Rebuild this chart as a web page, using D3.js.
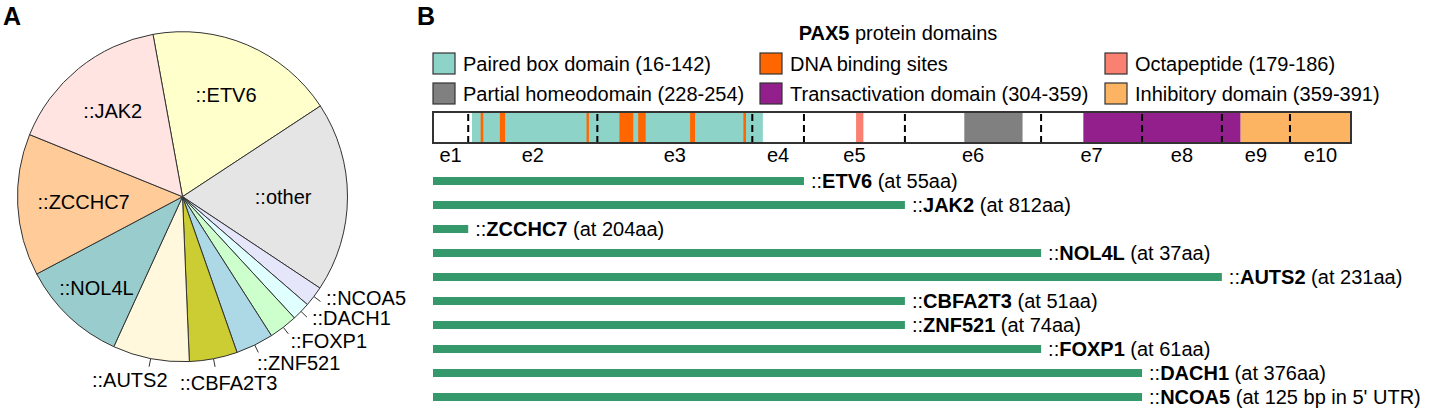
<!DOCTYPE html>
<html lang="en">
<head>
<meta charset="utf-8">
<title>PAX5 fusions</title>
<script src="https://cdn.jsdelivr.net/npm/d3@7"></script>
<style>
  body { margin: 0; background: #fff; }
  svg { display: block; font-family: "Liberation Sans", Arial, sans-serif; }
</style>
</head>
<body>
<script>
// ---- panel A: fusion partner frequencies (share of cases, %) ----
var partners = ["ETV6", "other", "NCOA5", "DACH1", "FOXP1", "ZNF521", "CBFA2T3", "AUTS2", "NOL4L", "ZCCHC7", "JAK2"];
var shares   = [18.6, 18.6, 2.0, 1.8, 2.8, 3.7, 4.7, 7.5, 10.4, 13.9, 16.0];
var sliceColors = ["#ffffcc", "#e5e5e5", "#e6e6fa", "#e0ffff", "#ccffcc", "#add8e6", "#cccc33", "#fff8dc", "#99cccc", "#ffcc99", "#ffe4e1"];
var insideLabels = ["ETV6", "other", "NOL4L", "ZCCHC7", "JAK2"];

// ---- panel B: PAX5 protein (positions along the drawn bar, aa) ----
var proteinLength = 391;
var exonNames = ["e1", "e2", "e3", "e4", "e5", "e6", "e7", "e8", "e9", "e10"];
var exonEnds  = [15, 70, 136, 158, 201, 259, 302, 336, 365, 391];

var domainNames  = ["Paired box domain (16-142)", "DNA binding sites", "Octapeptide (179-186)",
                    "Partial homeodomain (228-254)", "Transactivation domain (304-359)", "Inhibitory domain (359-391)"];
var domainColors = ["#8dd3c7", "#ff6600", "#fa8072", "#808080", "#921f8c", "#fdb462"];
// drawn extents [start, end, legend index]
var domainSpans = [
  [16.6, 140.5, 0], [180.2, 183.3, 2], [226.3, 251.1, 3], [277, 344, 4], [344, 391, 5]
];
var dnaSites = [[20.3, 21.4], [28.5, 30.7], [65.4, 66.4], [79.4, 85.3], [87.4, 90.6], [109.5, 111.6], [132.2, 133.3]];

// ---- fusions: last retained PAX5 exon and partner breakpoint ----
var fusionGenes = ["ETV6", "JAK2", "ZCCHC7", "NOL4L", "AUTS2", "CBFA2T3", "ZNF521", "FOXP1", "DACH1", "NCOA5"];
var lastExon    = [4, 5, 1, 6, 8, 5, 5, 6, 7, 7];
var breakpoints = ["at 55aa", "at 812aa", "at 204aa", "at 37aa", "at 231aa", "at 51aa", "at 74aa", "at 61aa", "at 376aa", "at 125 bp in 5' UTR"];

var W = 1430, H = 410;
var svg = d3.select("body").append("svg").attr("width", W).attr("height", H);

svg.append("text").attr("x", 3).attr("y", 25).attr("font-size", 25).attr("font-weight", "bold").text("A");
svg.append("text").attr("x", 417).attr("y", 25).attr("font-size", 25).attr("font-weight", "bold").text("B");

/* ---------- pie ---------- */
var cx = 182.5, cy = 196.7, r = 165;
var start = -10.3 * Math.PI / 180;
var pie = d3.pie().sort(null).value(function(d) { return d.v; })
  .startAngle(start).endAngle(start + 2 * Math.PI);
var slices = pie(partners.map(function(p, i) { return { name: p, v: shares[i], c: sliceColors[i] }; }));
var arc = d3.arc().innerRadius(0).outerRadius(r);

var gPie = svg.append("g").attr("transform", "translate(" + cx + "," + cy + ")");
gPie.selectAll("path").data(slices).enter().append("path")
  .attr("d", arc)
  .attr("fill", function(d) { return d.data.c; })
  .attr("stroke", "#333").attr("stroke-width", 1);

function mid(d) { return (d.startAngle + d.endAngle) / 2; }
function pt(a, k) { return [k * Math.sin(a), -k * Math.cos(a)]; }

// label placement tweaks
var innerRadius = { ETV6: 0.67, JAK2: 0.67, ZCCHC7: 0.6, other: 0.61, NOL4L: 0.76 };
var nudge = { NCOA5: [-1, -8], DACH1: [-1, -5], FOXP1: [-3, 1], ZNF521: [-5, 3], CBFA2T3: [-37, 8], AUTS2: [20, 5] };

slices.forEach(function(d) {
  var a = mid(d), name = d.data.name;
  if (insideLabels.indexOf(name) >= 0) {
    var p = pt(a, innerRadius[name] * r);
    gPie.append("text").attr("x", p[0]).attr("y", p[1]).attr("dy", "0.35em")
      .attr("text-anchor", "middle").attr("font-size", 20).text("::" + name);
  } else {
    var p0 = pt(a, r), p1 = pt(a, 1.05 * r), p2 = pt(a, 1.1 * r);
    var n = nudge[name] || [0, 0];
    gPie.append("line").attr("x1", p0[0]).attr("y1", p0[1]).attr("x2", p1[0]).attr("y2", p1[1])
      .attr("stroke", "#333").attr("stroke-width", 1);
    gPie.append("text").attr("x", p2[0] + n[0]).attr("y", p2[1] + n[1]).attr("dy", "0.35em")
      .attr("text-anchor", Math.sin(a) > 0 ? "start" : "end")
      .attr("font-size", 20).text("::" + name);
  }
});

/* ---------- protein bar ---------- */
var x = d3.scaleLinear().domain([0, proteinLength]).range([433, 1351]);
var barTop = 112, barH = 31;

var title = svg.append("text").attr("x", 898).attr("y", 33).attr("dy", "0.35em")
  .attr("text-anchor", "middle").attr("font-size", 20);
title.append("tspan").attr("font-weight", "bold").text("PAX5");
title.append("tspan").text(" protein domains");

// legend, 3 columns x 2 rows
var legCols = [433, 760, 1105], legRows = [53, 83];
var leg = svg.append("g");
domainNames.forEach(function(name, i) {
  var lx = legCols[i % 3], ly = legRows[Math.floor(i / 3)];
  leg.append("rect").attr("x", lx).attr("y", ly).attr("width", 22).attr("height", 21)
    .attr("fill", domainColors[i]).attr("stroke", "#333").attr("stroke-width", 1.2);
  leg.append("text").attr("x", lx + 30).attr("y", ly + 10.5).attr("dy", "0.35em")
    .attr("font-size", 20).text(name);
});

var gBar = svg.append("g");
gBar.append("rect").attr("x", x(0)).attr("y", barTop).attr("width", x(proteinLength) - x(0)).attr("height", barH)
  .attr("fill", "#fff");
gBar.selectAll("rect.dom").data(domainSpans).enter().append("rect").attr("class", "dom")
  .attr("x", function(d) { return x(d[0]); })
  .attr("width", function(d) { return x(d[1]) - x(d[0]); })
  .attr("y", barTop).attr("height", barH)
  .attr("fill", function(d) { return domainColors[d[2]]; });
gBar.selectAll("rect.dna").data(dnaSites).enter().append("rect").attr("class", "dna")
  .attr("x", function(d) { return x(d[0]); })
  .attr("width", function(d) { return x(d[1]) - x(d[0]); })
  .attr("y", barTop).attr("height", barH)
  .attr("fill", domainColors[1]);
// exon boundaries
gBar.selectAll("line.ex").data(exonEnds.slice(0, -1)).enter().append("line").attr("class", "ex")
  .attr("x1", function(d) { return x(d); }).attr("x2", function(d) { return x(d); })
  .attr("y1", barTop + 2).attr("y2", barTop + barH)
  .attr("stroke", "#000").attr("stroke-width", 2).attr("stroke-dasharray", "7,4");
gBar.append("rect").attr("x", x(0)).attr("y", barTop).attr("width", x(proteinLength) - x(0)).attr("height", barH)
  .attr("fill", "none").attr("stroke", "#333").attr("stroke-width", 2);

// exon labels centred in each exon
gBar.selectAll("text.exl").data(exonNames).enter().append("text").attr("class", "exl")
  .attr("x", function(d, i) { return x(((i ? exonEnds[i - 1] : 0) + exonEnds[i]) / 2); })
  .attr("y", 155).attr("dy", "0.35em").attr("text-anchor", "middle").attr("font-size", 20)
  .text(function(d) { return d; });

/* ---------- fusion bars ---------- */
var y = d3.scaleBand().domain(fusionGenes).range([169, 409]).paddingInner(0.67).paddingOuter(0.335);
var gF = svg.append("g");
fusionGenes.forEach(function(g, i) {
  var xe = x(exonEnds[lastExon[i] - 1]);
  var yc = y(g) + y.bandwidth() / 2;
  gF.append("rect").attr("x", x(0)).attr("y", yc - 4).attr("width", xe - x(0)).attr("height", 8)
    .attr("fill", "#35996b");
  var t = gF.append("text").attr("x", xe + 7).attr("y", yc).attr("dy", "0.35em").attr("font-size", 20);
  t.append("tspan").text("::");
  t.append("tspan").attr("font-weight", "bold").text(g);
  t.append("tspan").text(" (" + breakpoints[i] + ")");
});
</script>
</body>
</html>
